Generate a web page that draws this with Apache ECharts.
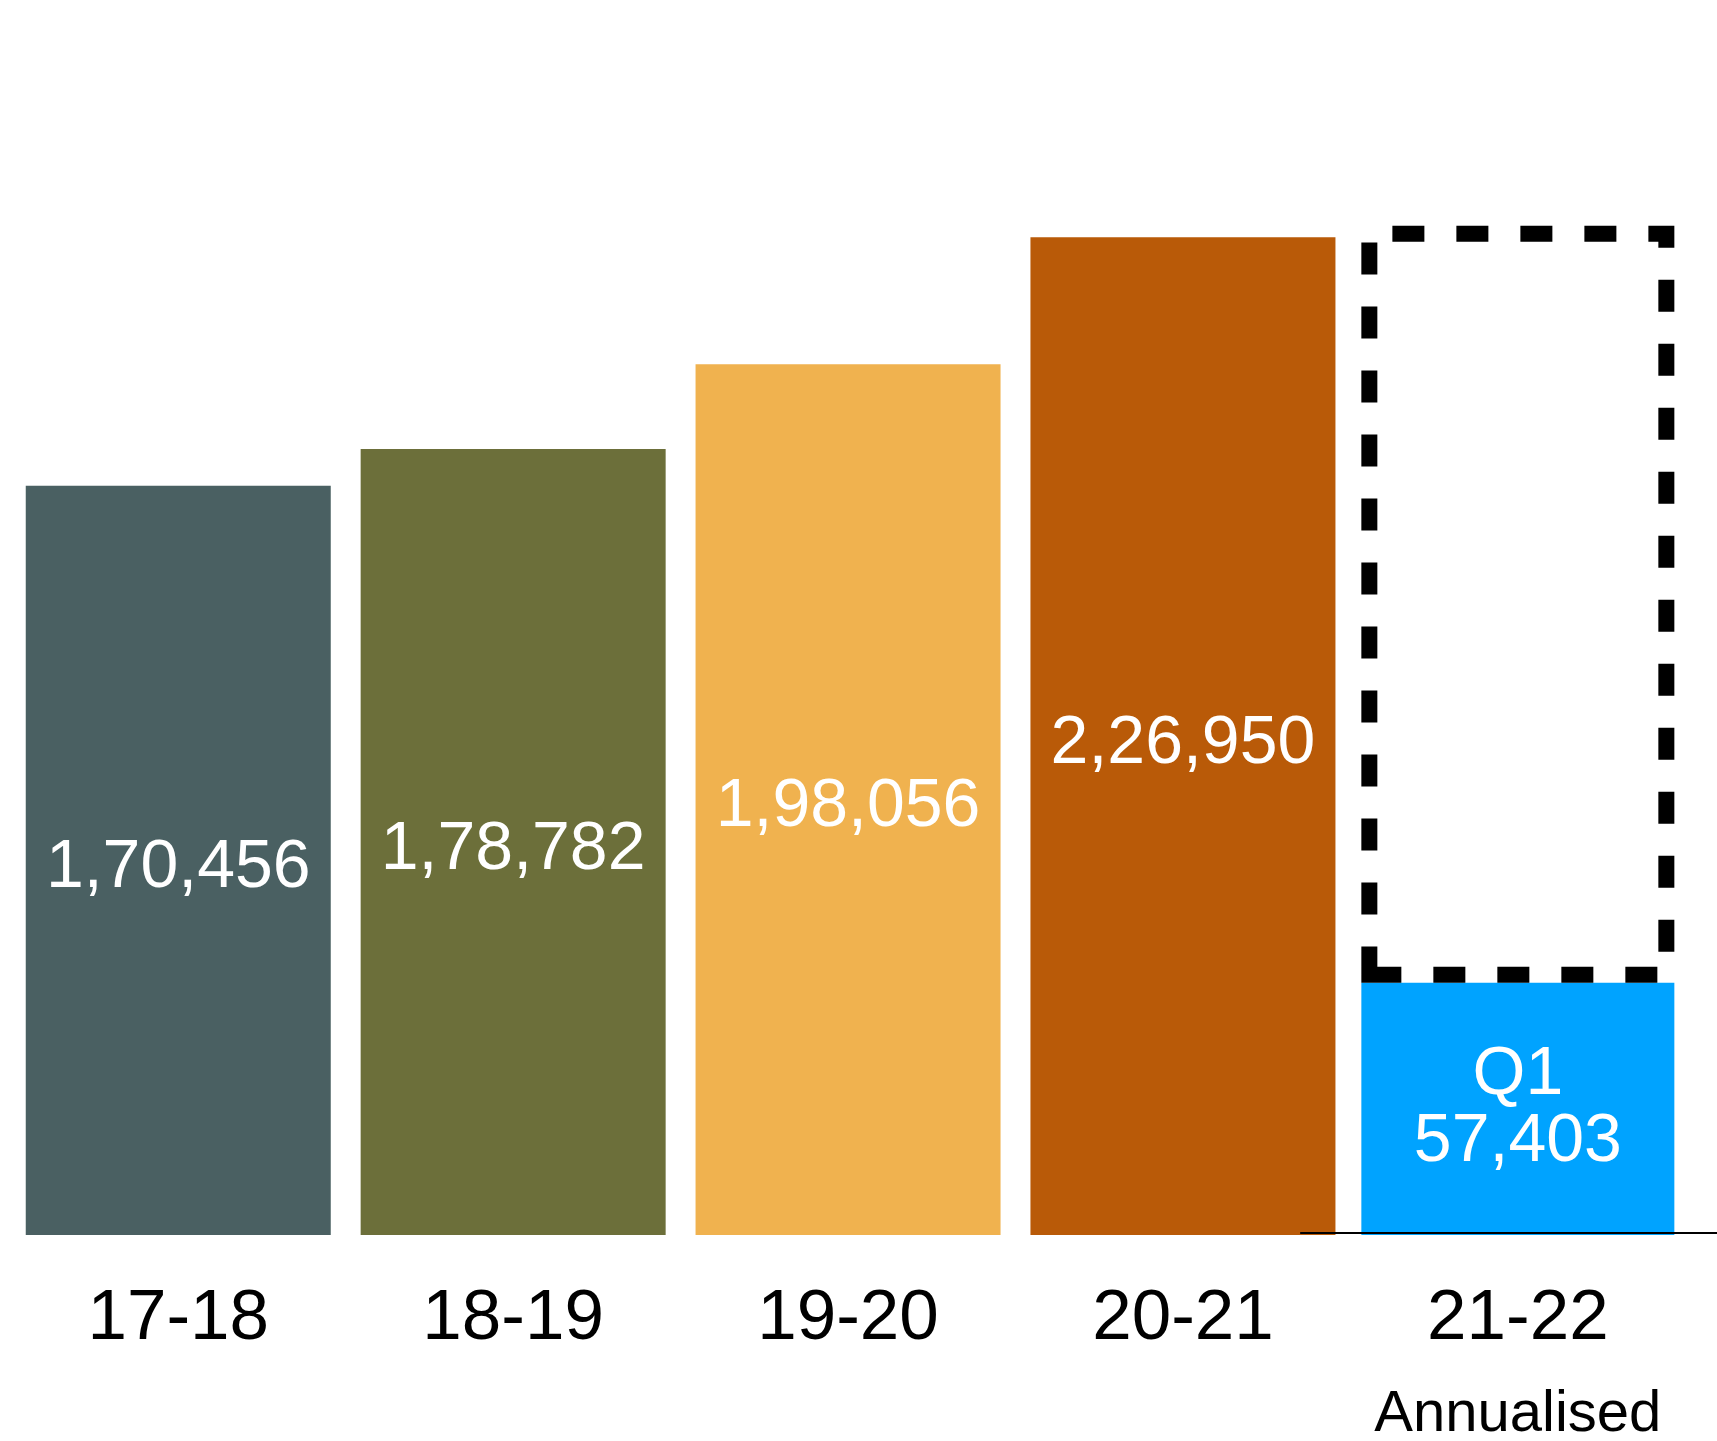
<!DOCTYPE html>
<html><head><meta charset="utf-8">
<script src="https://cdn.jsdelivr.net/npm/echarts@6/dist/echarts.min.js"></script>
<style>html,body{margin:0;padding:0;background:#fff}#c{width:1717px;height:1441px}</style>
</head><body><div id="c"></div>
<script>
// ---- data ----
const categories = ['17-18', '18-19', '19-20', '20-21', '21-22'];
const annualValues = [170456, 178782, 198056, 226950, null];
const q1Values = [null, null, null, null, 57403];
const annualisedValues = [null, null, null, null, 229612];
const q1Tag = 'Q1';
const subLabel = 'Annualised';

// ---- styles ----
const barColors = ['#4A6062', '#6C6F3A', '#F0B24F', '#B95A08'];
const q1Color = '#00A3FF';
const FONT = "'Liberation Sans', Arial, Helvetica, sans-serif";

function fmtIN(n) {
  const s = String(Math.round(n));
  if (s.length <= 3) return s;
  const last3 = s.slice(-3);
  let rest = s.slice(0, -3);
  const parts = [];
  while (rest.length > 2) { parts.unshift(rest.slice(-2)); rest = rest.slice(0, -2); }
  if (rest.length) parts.unshift(rest);
  return parts.join(',') + ',' + last3;
}

const chart = echarts.init(document.getElementById('c'), null, { renderer: 'canvas' });

const labelStyle = { show: true, position: 'inside', color: '#fff', fontSize: 68, fontFamily: FONT, lineHeight: 67 };

const hiddenCat = () => ({
  type: 'category', data: categories, gridIndex: 0, show: false,
  axisTick: { show: false }, axisLine: { show: false }, axisLabel: { show: false }
});

chart.setOption({
  animation: false,
  backgroundColor: '#fff',
  grid: { left: 10.8, width: 1674.5, top: 136, height: 1099, containLabel: false, outerBoundsMode: 'none' },
  xAxis: [
    {
      type: 'category', data: categories,
      axisLine: { show: false }, axisTick: { show: false },
      axisLabel: {
        margin: 44, verticalAlign: 'top',
        formatter: (v, i) => i === 4 ? '{a|' + v + '}\n{b|' + subLabel + '}' : '{a|' + v + '}',
        rich: {
          a: { fontSize: 71, lineHeight: 80, color: '#000', fontFamily: FONT },
          b: { fontSize: 58, lineHeight: 112, color: '#000', fontFamily: FONT }
        }
      }
    },
    hiddenCat(),
    hiddenCat()
  ],
  yAxis: { type: 'value', min: 0, max: 250000, show: false, splitLine: { show: false } },
  series: [
    {
      name: 'Annual', type: 'bar', xAxisIndex: 0, barWidth: 305,
      data: annualValues.map((v, i) => v == null ? '-' : { value: v, itemStyle: { color: barColors[i] } }),
      label: Object.assign({}, labelStyle, { offset: [0, 8], formatter: p => fmtIN(p.value) })
    },
    {
      name: 'Q1', type: 'bar', xAxisIndex: 1, barWidth: 313, z: 3,
      itemStyle: { color: q1Color },
      data: q1Values.map(v => v == null ? '-' : v),
      label: Object.assign({}, labelStyle, { formatter: p => q1Tag + '\n' + fmtIN(p.value) })
    },
    {
      name: 'base', type: 'bar', xAxisIndex: 2, barWidth: 313, stack: 'ann', silent: true,
      itemStyle: { color: 'transparent' },
      data: q1Values.map(v => v == null ? '-' : v)
    },
    {
      name: 'Annualised', type: 'bar', xAxisIndex: 2, barWidth: 313, stack: 'ann', z: 4,
      itemStyle: { color: 'transparent', borderColor: '#000', borderWidth: 16, borderType: [32, 32], borderCap: 'butt' },
      data: annualisedValues.map((v, i) => v == null ? '-' : v - q1Values[i])
    }
  ]
});

// baseline segment under the last category
const y0 = chart.convertToPixel({ yAxisIndex: 0 }, 0);
const x3 = chart.convertToPixel({ xAxisIndex: 0 }, categories[3]);
const x4 = chart.convertToPixel({ xAxisIndex: 0 }, categories[4]);
chart.setOption({
  graphic: [{
    type: 'line', z: 10,
    shape: { x1: x3 + (x4 - x3) * 0.35, y1: y0 - 2, x2: 1717, y2: y0 - 2 },
    style: { stroke: '#000', lineWidth: 2 }
  }]
});
</script>
</body></html>
